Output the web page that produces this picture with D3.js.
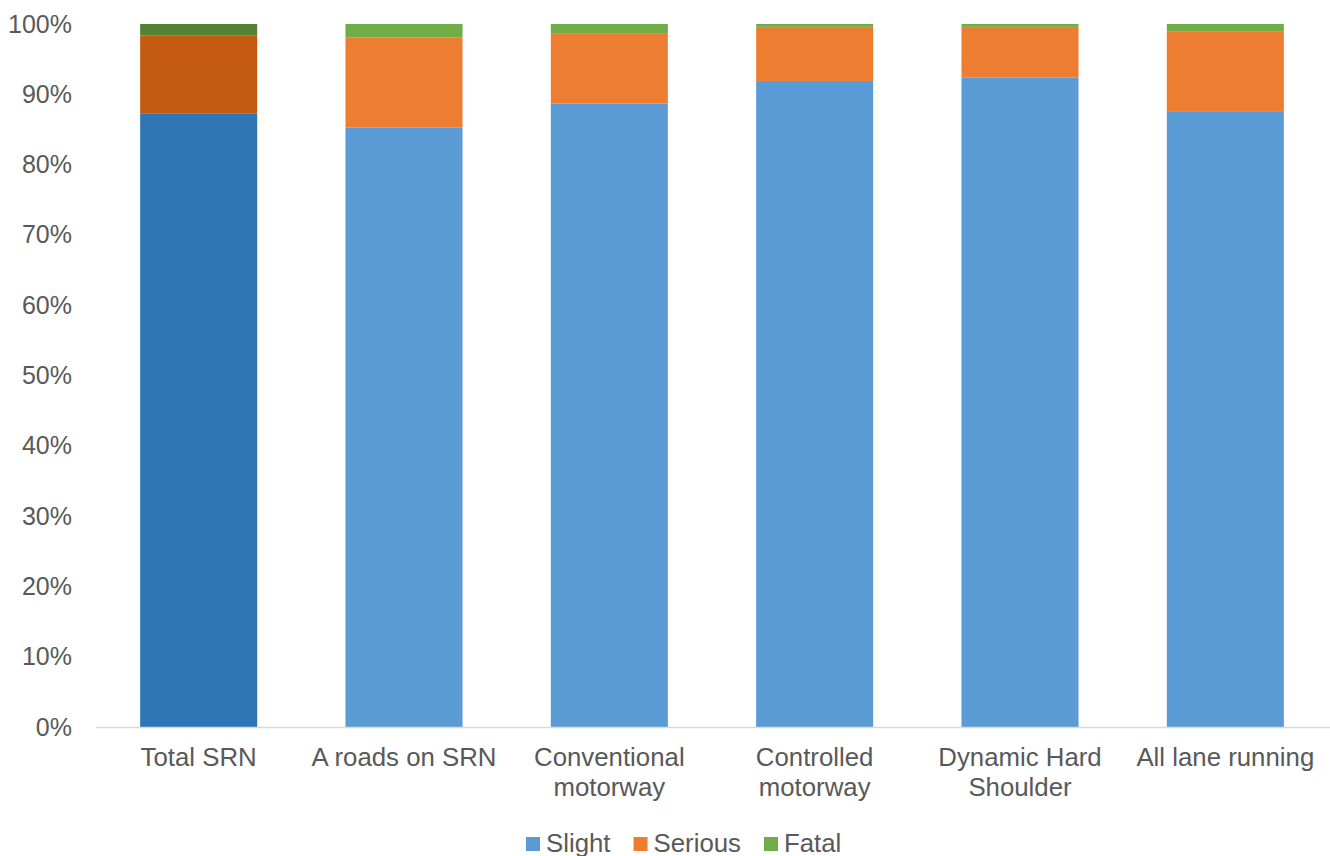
<!DOCTYPE html>
<html>
<head>
<meta charset="utf-8">
<script src="https://cdn.jsdelivr.net/npm/d3@7"></script>
<style>
  html, body { margin: 0; padding: 0; background: #fff; }
  svg text { font-family: "Liberation Sans", Arial, sans-serif; fill: #595959; }
</style>
</head>
<body>
<svg id="chart" width="1330" height="856"></svg>
<script>
// ---- data ----
const categories = ["Total SRN", "A roads on SRN", "Conventional motorway", "Controlled motorway", "Dynamic Hard Shoulder", "All lane running"];
const slight  = [87.3, 85.3, 88.7, 91.9, 92.4, 87.6];
const serious = [11.1, 12.8, 9.9, 7.7, 7.2, 11.3];
const fatal   = [1.6, 1.9, 1.4, 0.4, 0.4, 1.1];
const seriesNames = ["Slight", "Serious", "Fatal"];
const yTicks = [0, 10, 20, 30, 40, 50, 60, 70, 80, 90, 100];

const colors = { Slight: "#5B9BD5", Serious: "#ED7D31", Fatal: "#70AD47" };
const highlightColors = { Slight: "#2E75B6", Serious: "#C55A11", Fatal: "#548235" };

const rows = categories.map((c, i) => ({ cat: c, Slight: slight[i], Serious: serious[i], Fatal: fatal[i] }));

const svg = d3.select("#chart");
const margin = { left: 96, right: 2, top: 24, bottom: 129 };
const W = 1330, H = 856;

const x = d3.scaleBand().domain(categories).range([margin.left, W - margin.right]).paddingInner(0.43).paddingOuter(0.215);
const y = d3.scaleLinear().domain([0, 100]).range([H - margin.bottom, margin.top]);

const stack = d3.stack().keys(seriesNames);
const stacked = stack(rows);

// bars
svg.append("g").selectAll("g").data(stacked).join("g")
  .each(function(s) {
    d3.select(this).selectAll("rect").data(s).join("rect")
      .attr("x", d => x(d.data.cat))
      .attr("width", x.bandwidth())
      .attr("y", d => y(d[1]))
      .attr("height", d => y(d[0]) - y(d[1]))
      .attr("fill", (d, i) => i === 0 ? highlightColors[s.key] : colors[s.key]);
  });

// y axis
const yAxis = svg.append("g").attr("transform", `translate(${margin.left},0)`)
  .call(d3.axisLeft(y).tickValues(yTicks).tickFormat(d => d + "%").tickSize(0).tickPadding(24));
yAxis.select(".domain").remove();
yAxis.selectAll("text").style("font-size", "25px").attr("fill", "#595959");

// x axis
const xAxis = svg.append("g").attr("transform", `translate(0,${y(0)})`)
  .call(d3.axisBottom(x).tickSize(0).tickPadding(21));
xAxis.select(".domain").attr("stroke", "#D9D9D9").attr("stroke-width", 1.5)
  .attr("d", `M${margin.left},0.5H${W}`);
xAxis.selectAll("text").style("font-size", "25.8px").attr("fill", "#595959")
  .each(function(d) {
    const t = d3.select(this);
    const words = d.split(" ");
    t.text(null);
    const maxW = 192;
    let line = [];
    let lines = [];
    const tmp = t.append("tspan");
    words.forEach(w => {
      line.push(w);
      tmp.text(line.join(" "));
      if (tmp.node().getComputedTextLength() > maxW && line.length > 1) {
        line.pop();
        lines.push(line.join(" "));
        line = [w];
      }
    });
    lines.push(line.join(" "));
    tmp.remove();
    const dy0 = t.attr("dy");
    lines.forEach((l, i) => {
      t.append("tspan").attr("x", 0).attr("dy", i === 0 ? dy0 : "1.16em").text(l);
    });
  });

// legend
const legend = svg.append("g").attr("transform", "translate(526,0)");
let lx = 0;
seriesNames.forEach(name => {
  legend.append("rect").attr("x", lx).attr("y", 837).attr("width", 14).attr("height", 14).attr("fill", colors[name]);
  const t = legend.append("text").attr("x", lx + 20).attr("y", 852).style("font-size", "25.8px").text(name);
  lx += 20 + t.node().getComputedTextLength() + 23;
});
</script>
</body>
</html>
